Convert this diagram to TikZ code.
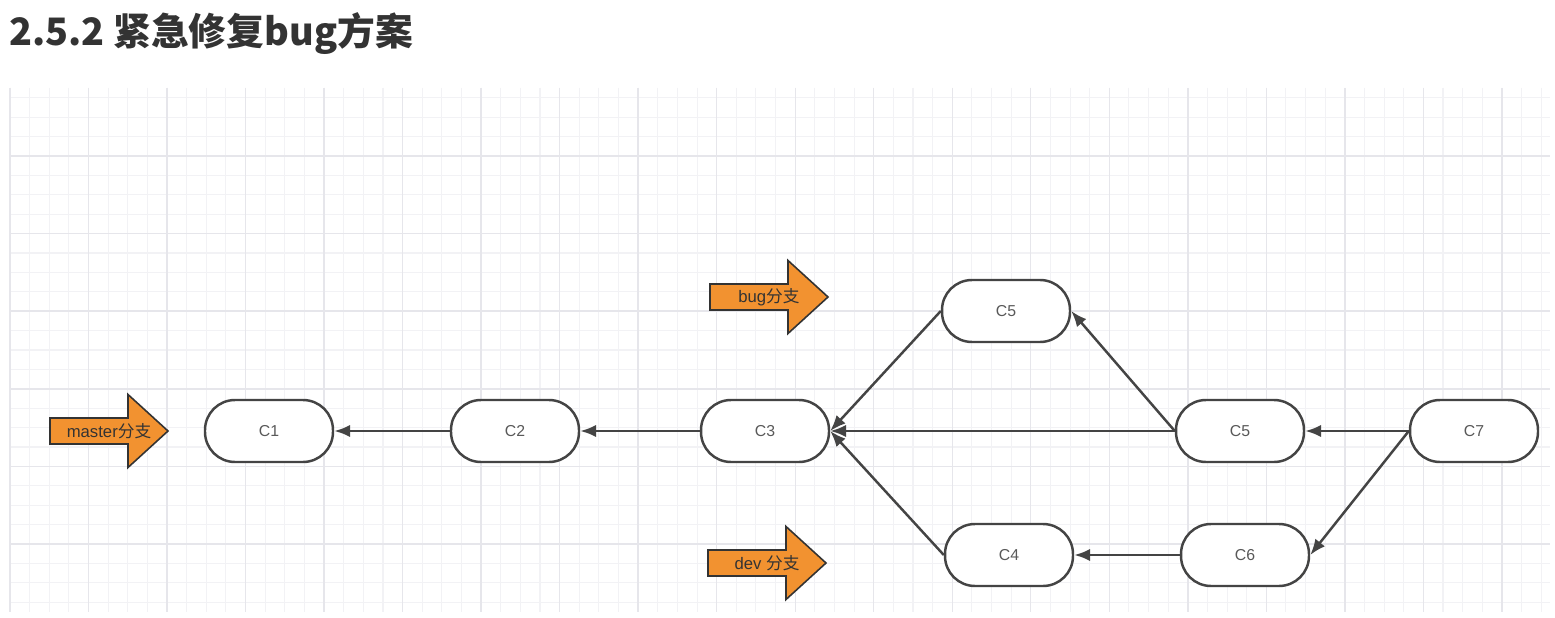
\documentclass[tikz,border=0pt]{standalone}
\usepackage{fontspec}
\setmainfont{Liberation Sans}
\newfontfamily\cjk{Noto Sans CJK SC}
\newcommand{\zh}[1]{{\cjk #1}}
\usetikzlibrary{arrows.meta}
\definecolor{GridMinor}{RGB}{242,242,245}
\definecolor{GridMajor}{RGB}{230,230,235}
\definecolor{EdgeGray}{RGB}{68,68,68}
\definecolor{TagOrange}{RGB}{242,146,48}
\definecolor{TitleGray}{RGB}{51,51,51}
\tikzset{
  commit/.style={draw=EdgeGray, line width=1.4pt, fill=white, rounded corners=0.6cm,
    minimum width=2.56cm, minimum height=1.24cm, font=\fontsize{9}{10}\selectfont, text=black!65},
  parent/.style={draw=EdgeGray, line width=1.4pt, -{Latex[length=9pt,width=7pt]}},
  tagarrow/.style={fill=TagOrange, draw=black!80, line width=0.9pt, line join=miter},
  tagtext/.style={font=\fontsize{9.5}{11}\selectfont, text=black!80}
}

\begin{document}
\begin{tikzpicture}[x=0.02cm, y=-0.02cm]
    \useasboundingbox (0,0) rectangle (1555,618);
    \fill[white] (0,0) rectangle (1555,618);

    % Grid
    \foreach \i in {0,...,78}
      \draw[GridMinor, line width=0.6pt] ({10+19.63*\i},88) -- ({10+19.63*\i},612);
    \foreach \j in {0,...,26}
      \draw[GridMinor, line width=0.6pt] (10,{97.8+19.4*\j}) -- (1550,{97.8+19.4*\j});
    \foreach \i in {0,...,19}
      \draw[GridMajor, line width=0.8pt] ({10+78.52*\i},88) -- ({10+78.52*\i},612);
    \foreach \j in {0,...,5}
      \draw[GridMajor, line width=0.8pt] (10,{156+77.6*\j}) -- (1550,{156+77.6*\j});

    % Title
    \node[font=\cjk\bfseries\fontsize{21.5}{26}\selectfont, text=TitleGray, anchor=west] (title) at (3,34) {2.5.2 紧急修复bug方案};

    % Commits
    \node[commit] (c1) at (269,431) {C1};
    \node[commit] (c2) at (515,431) {C2};
    \node[commit] (c3) at (765,431) {C3};
    \node[commit] (c5bug) at (1006,311) {C5};
    \node[commit] (c5) at (1240,431) {C5};
    \node[commit] (c7) at (1474,431) {C7};
    \node[commit] (c4) at (1009,555) {C4};
    \node[commit] (c6) at (1245,555) {C6};

    % Parent links
    \draw[parent] (c2) -- (c1);
    \draw[parent] (c3) -- (c2);
    \draw[parent] (c5bug.west) -- (c3.east);
    \draw[parent] (c5.west) -- (c5bug.east);
    \draw[parent] (c5) -- (c3);
    \draw[parent] (c4.west) -- (c3.east);
    \draw[parent] (c6) -- (c4);
    \draw[parent] (c7) -- (c5);
    \draw[parent] (c7.west) -- (c6.east);

    % Branch tags
    \foreach \tagname/\tx/\ty/\tlabel in {master/109/431/master\zh{分支}, bug/769/297/bug\zh{分支}, dev/767/563/dev \zh{分支}} {
      \draw[tagarrow] (\tx,\ty) +(-59,-13) -- +(19,-13) -- +(19,-36.5) -- +(59,0)
        -- +(19,36.5) -- +(19,13) -- +(-59,13) -- cycle;
      \node[tagtext] (\tagname) at (\tx,\ty) {\tlabel};
    }
\end{tikzpicture}
\end{document}
